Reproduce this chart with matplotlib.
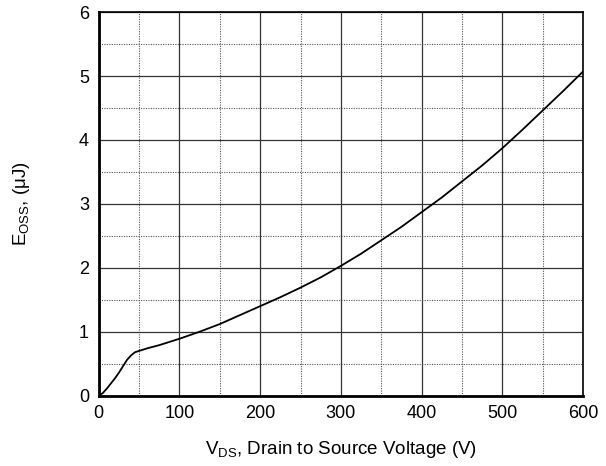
import matplotlib
matplotlib.use('Agg')
from matplotlib import pyplot as plt
from matplotlib.ticker import MultipleLocator
import numpy as np

plt.rcParams['font.family'] = ['Liberation Sans', 'DejaVu Sans']
plt.rcParams['mathtext.fontset'] = 'custom'
plt.rcParams['mathtext.rm'] = 'Liberation Sans'

# curve
vds = np.array([0, 5, 10, 15, 20, 25, 30, 35, 40, 45, 50, 60, 75, 90, 100,
                125, 150, 175, 200, 225, 250, 275, 300, 325, 350, 375, 400,
                425, 450, 475, 500, 525, 550, 575, 600])
eoss = np.array([0, 0.04, 0.11, 0.19, 0.27, 0.36, 0.46, 0.56, 0.63, 0.68, 0.70,
                 0.74, 0.79, 0.85, 0.89, 1.00, 1.12, 1.26, 1.40, 1.54, 1.69,
                 1.85, 2.03, 2.22, 2.43, 2.64, 2.87, 3.10, 3.35, 3.60, 3.87,
                 4.16, 4.46, 4.76, 5.07])

xticks = [0, 100, 200, 300, 400, 500, 600]
yticks = [0, 1, 2, 3, 4, 5, 6]

fig = plt.figure(figsize=(6.06, 4.66), dpi=100)
ax = fig.add_axes([0.163, 0.151, 0.799, 0.823])

ax.plot(vds, eoss, color='black', lw=1.3, zorder=3)

ax.set_xlim(0, 600)
ax.set_ylim(0, 6)
ax.set_xticks(xticks)
ax.set_yticks(yticks)
ax.xaxis.set_minor_locator(MultipleLocator(50))
ax.yaxis.set_minor_locator(MultipleLocator(0.5))
ax.grid(which='major', color='#333333', lw=0.9, ls='-')
ax.grid(which='minor', color='#555555', lw=0.8, ls=(0, (1, 1.2)))
ax.set_axisbelow(True)

ax.tick_params(which='both', length=0, labelsize=13, pad=7)
for s in ax.spines.values():
    s.set_linewidth(1.2)
ax.spines['left'].set_linewidth(2)
ax.spines['bottom'].set_linewidth(2)

ax.set_xlabel(r'V$_\mathregular{DS}$, Drain to Source Voltage (V)', fontsize=13.5, labelpad=12)
ax.set_ylabel(r'E$_\mathregular{OSS}$, (μJ)', fontsize=13.5, labelpad=34)

fig.savefig('out.png', dpi=100)
